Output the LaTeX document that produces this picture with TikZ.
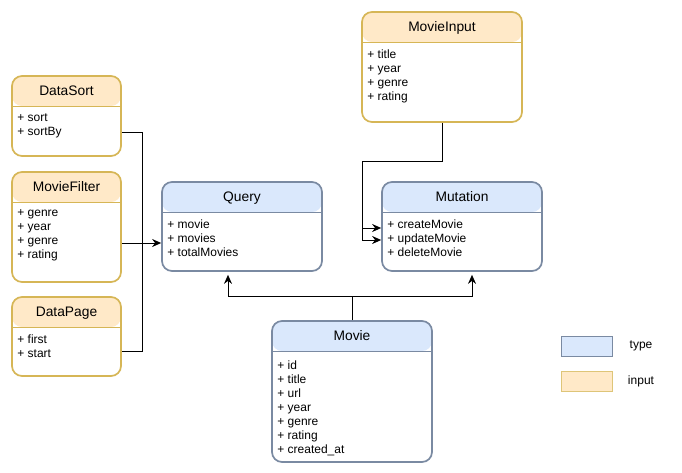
\documentclass[tikz,border=0pt]{standalone}
\usepackage{fontspec}
\setmainfont{Liberation Sans}
\usetikzlibrary{arrows.meta}
\definecolor{typefill}{HTML}{DAE8FC}
\definecolor{typeline}{HTML}{7A8AA2}
\definecolor{inpfill}{HTML}{FFE9C8}
\definecolor{inpline}{HTML}{D6B656}
\tikzset{
  umlbase/.style={rounded corners=10pt, line width=1.7pt, inner sep=0pt, fill=white},
  typebox/.style={umlbase, draw=typeline, path picture={
      \fill[typefill] (path picture bounding box.north west) rectangle ([yshift=-30pt]path picture bounding box.north east);
      \draw[typeline, line width=1pt] ([yshift=-30pt]path picture bounding box.north west) -- ([yshift=-30pt]path picture bounding box.north east);}},
  inpbox/.style={umlbase, draw=inpline, path picture={
      \fill[inpfill] (path picture bounding box.north west) rectangle ([yshift=-30pt]path picture bounding box.north east);
      \draw[inpline, line width=1pt] ([yshift=-30pt]path picture bounding box.north west) -- ([yshift=-30pt]path picture bounding box.north east);}},
  title/.style={font=\fontsize{13.8}{15}\selectfont, inner sep=0pt, anchor=base},
  items/.style={font=\fontsize{12}{14}\selectfont, align=left, inner sep=0pt, anchor=north west},
  conn/.style={line width=1pt, draw=black},
  arr/.style={conn, -{Stealth[length=9pt,width=8pt]}},
  legbox/.style={line width=1pt, minimum width=51pt, minimum height=20pt, inner sep=0pt},
  legtext/.style={font=\fontsize{12}{14}\selectfont, inner sep=0pt}
}
\begin{document}
\begin{tikzpicture}[x=1pt,y=-1pt]
\useasboundingbox (0,0) rectangle (682,472);
% boxes
\node[inpbox, minimum width=109pt, minimum height=80pt] (ds) at (66.5,116) {};
\node[inpbox, minimum width=109pt, minimum height=110pt] (mf) at (66.5,227) {};
\node[inpbox, minimum width=109pt, minimum height=79pt] (dp) at (66.5,336.5) {};
\node[typebox, minimum width=160pt, minimum height=89pt] (q) at (242,226.5) {};
\node[typebox, minimum width=160pt, minimum height=89pt] (mu) at (462,226.5) {};
\node[inpbox, minimum width=160pt, minimum height=110pt] (mi) at (442,67) {};
\node[typebox, minimum width=160pt, minimum height=141pt] (mo) at (352,391.5) {};
% titles
\node[title] (dst) at ([yshift=-20pt]ds.north) {DataSort};
\node[title] (mft) at ([yshift=-20pt]mf.north) {MovieFilter};
\node[title] (dpt) at ([yshift=-20pt]dp.north) {DataPage};
\node[title] (qt) at ([yshift=-20pt]q.north) {Query};
\node[title] (mut) at ([yshift=-20pt]mu.north) {Mutation};
\node[title] (mit) at ([yshift=-20pt]mi.north) {MovieInput};
\node[title] (mot) at ([yshift=-20.5pt]mo.north) {Movie};
% items
\node[items] (dsi) at ([xshift=6pt,yshift=-38pt]ds.north west) {+ sort\\+ sortBy};
\node[items] (mfi) at ([xshift=6pt,yshift=-38pt]mf.north west) {+ genre\\+ year\\+ genre\\+ rating};
\node[items] (dpi) at ([xshift=6pt,yshift=-38pt]dp.north west) {+ first\\+ start};
\node[items] (qi) at ([xshift=6pt,yshift=-38pt]q.north west) {+ movie\\+ movies\\+ totalMovies};
\node[items] (mui) at ([xshift=6pt,yshift=-38pt]mu.north west) {+ createMovie\\+ updateMovie\\+ deleteMovie};
\node[items] (mii) at ([xshift=6pt,yshift=-38pt]mi.north west) {+ title\\+ year\\+ genre\\+ rating};
\node[items] (moi) at ([xshift=6pt,yshift=-40pt]mo.north west) {+ id\\+ title\\+ url\\+ year\\+ genre\\+ rating\\+ created\_at};
% connectors into Query
\coordinate (jq) at (142,243);
\draw[conn] ([yshift=-16pt]ds.east) -| (jq);
\draw[conn] ([yshift=-15pt]dp.east) -| (jq);
\draw[arr] ([yshift=-16pt]mf.east) -- ([yshift=-16.5pt]q.west);
% MovieInput into Mutation
\coordinate (jm) at (362,161);
\draw[conn] (mi.south) |- (jm);
\draw[arr] (jm) |- ([yshift=-1.5pt]mu.west);
\draw[arr] (jm) |- ([yshift=-13.5pt]mu.west);
% Movie up to Query and Mutation
\coordinate (jb) at (352,296);
\draw[conn] (mo.north) -- (jb);
\draw[arr] (jb) -| ([xshift=-14pt,yshift=-3pt]q.south);
\draw[arr] (jb) -| ([xshift=10pt,yshift=-3pt]mu.south);
% legend
\node[legbox, draw=typeline, fill=typefill] (lt) at (586.5,346) {};
\node[legbox, draw=inpline!80, fill=inpfill] (li) at (586.5,381.5) {};
\node[legtext] (ltt) at (641,346) {type};
\node[legtext] (lit) at (641,381) {input};
\end{tikzpicture}
\end{document}
